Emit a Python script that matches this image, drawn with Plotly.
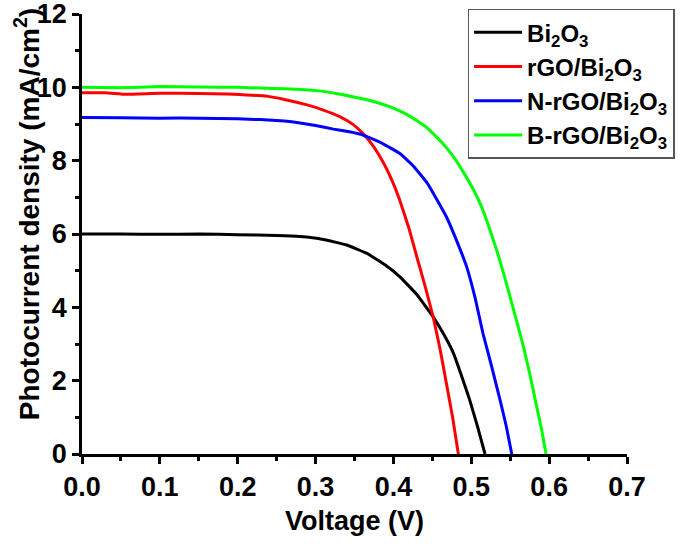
import plotly.graph_objects as go

# Bi2O3 (black)
v_bi = [0, 0.05, 0.10, 0.15, 0.20, 0.25, 0.28, 0.31, 0.34, 0.366, 0.39, 0.408, 0.43, 0.451, 0.465, 0.477, 0.488, 0.498, 0.508, 0.5176]
j_bi = [6.00, 6.00, 5.99, 6.00, 5.98, 5.96, 5.93, 5.85, 5.70, 5.47, 5.15, 4.84, 4.35, 3.74, 3.25, 2.75, 2.10, 1.47, 0.75, 0.0]

# rGO/Bi2O3 (red)
v_rgo = [0, 0.03, 0.057, 0.1, 0.15, 0.186, 0.237, 0.26, 0.289, 0.31, 0.331, 0.348, 0.361, 0.375, 0.387, 0.398, 0.408, 0.42, 0.43, 0.441, 0.451, 0.46, 0.468, 0.476, 0.4834]
j_rgo = [9.85, 9.85, 9.81, 9.84, 9.83, 9.82, 9.76, 9.67, 9.52, 9.38, 9.20, 8.99, 8.74, 8.37, 7.95, 7.47, 6.93, 6.15, 5.38, 4.55, 3.74, 2.85, 1.93, 1.00, 0.0]

# N-rGO/Bi2O3 (blue)
v_n = [0, 0.05, 0.1, 0.15, 0.2, 0.229, 0.26, 0.28, 0.3, 0.323, 0.345, 0.361, 0.385, 0.408, 0.425, 0.443, 0.455, 0.468, 0.48, 0.494, 0.505, 0.515, 0.526, 0.537, 0.545, 0.552]
j_n = [9.18, 9.17, 9.16, 9.16, 9.14, 9.12, 9.08, 9.03, 8.96, 8.86, 8.78, 8.70, 8.48, 8.20, 7.87, 7.40, 6.97, 6.47, 5.88, 5.11, 4.25, 3.29, 2.40, 1.47, 0.75, 0.0]

# B-rGO/Bi2O3 (green)
v_b = [0, 0.05, 0.1, 0.15, 0.2, 0.229, 0.26, 0.301, 0.33, 0.357, 0.38, 0.4, 0.422, 0.443, 0.462, 0.477, 0.49, 0.503, 0.514, 0.524, 0.535, 0.545, 0.556, 0.567, 0.576, 0.584, 0.59, 0.596]
j_b = [10.00, 9.99, 10.02, 10.01, 10.00, 9.98, 9.96, 9.91, 9.82, 9.70, 9.58, 9.43, 9.20, 8.90, 8.50, 8.11, 7.68, 7.20, 6.70, 6.11, 5.40, 4.66, 3.80, 2.93, 2.10, 1.29, 0.70, 0.0]

names = ["Bi<sub>2</sub>O<sub>3</sub>", "rGO/Bi<sub>2</sub>O<sub>3</sub>",
         "N-rGO/Bi<sub>2</sub>O<sub>3</sub>", "B-rGO/Bi<sub>2</sub>O<sub>3</sub>"]
colors = ["#000000", "#ff0000", "#0000ff", "#00ff00"]
series = [(v_bi, j_bi), (v_rgo, j_rgo), (v_n, j_n), (v_b, j_b)]

FONT = "Liberation Sans, Arial, sans-serif"

fig = go.Figure()
for i, ((v, j), n, c) in enumerate(zip(series, names, colors)):
    fig.add_trace(go.Scatter(x=v, y=j, mode="lines", name=n, legendgroup=f"g{i}",
                             line=dict(color=c, width=3, shape="spline", smoothing=0.3)))

axis_common = dict(
    showline=True, linecolor="black", linewidth=2.5, mirror=False,
    ticks="outside", ticklen=7, tickwidth=2.5, tickcolor="black",
    showgrid=False, zeroline=False, automargin=False, ticklabeloverflow="allow",
    tickfont=dict(family=FONT, size=27, color="black", weight="bold"),
)

fig.update_xaxes(range=[0, 0.7], dtick=0.1, tickformat=".1f",
                 minor=dict(dtick=0.05, ticks="outside", ticklen=4, tickwidth=2.5, tickcolor="black"),
                 title=dict(text="Voltage (V)", font=dict(family=FONT, size=27, color="black", weight="bold"),
                            standoff=10),
                 **axis_common)
fig.update_yaxes(range=[0, 12], dtick=2,
                 minor=dict(dtick=1, ticks="outside", ticklen=4, tickwidth=2.5, tickcolor="black"),
                 **axis_common)

fig.add_annotation(text="Photocurrent density (mA/cm<sup>2</sup>)", textangle=-90,
                   xref="paper", yref="paper", x=-0.101, y=0.545, xanchor="center", yanchor="middle",
                   showarrow=False, font=dict(family=FONT, size=28, color="black", weight="bold"))

fig.update_layout(
    width=680, height=544,
    margin=dict(l=82, r=53, t=14, b=90, autoexpand=False),
    plot_bgcolor="white", paper_bgcolor="white",
    legend=dict(x=0.7075, y=1.012, xanchor="left", yanchor="top",
                bgcolor="white", bordercolor="#555555", borderwidth=1.5,
                font=dict(family=FONT, size=24, color="black", weight="bold"),
                itemwidth=48, tracegroupgap=4, traceorder="normal"),
    showlegend=True,
)

fig.write_html("out.html", config={"displayModeBar": False},
               post_script="document.body.style.margin='0';document.body.style.overflow='hidden';")
